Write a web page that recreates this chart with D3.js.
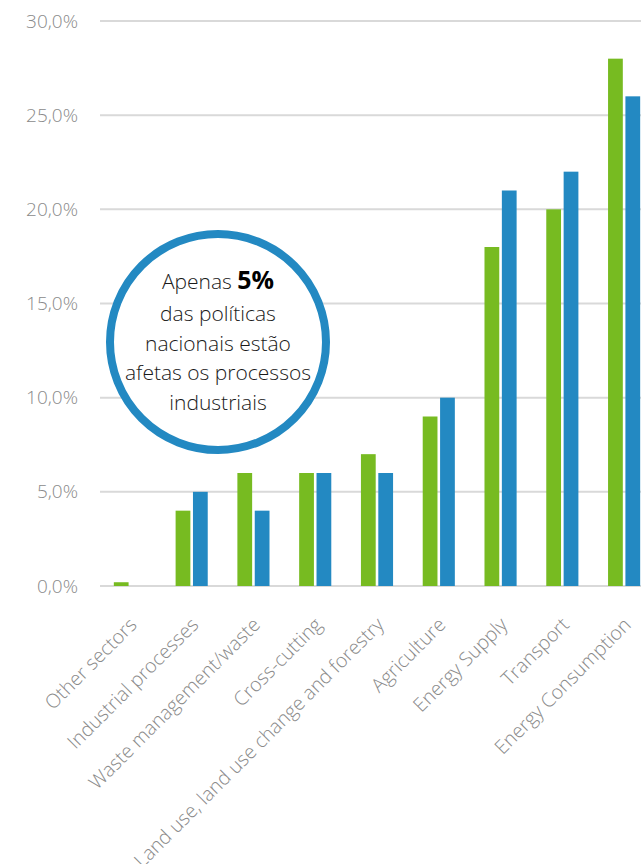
<!DOCTYPE html>
<html>
<head>
<meta charset="utf-8">
<script src="https://cdn.jsdelivr.net/npm/d3@7"></script>
<style>
  body { margin: 0; background: #fff; }
  svg { display: block; font-family: "Open Sans", sans-serif; }
  .tick text { fill: #8a8a8a; }
</style>
</head>
<body>
<div id="chart"></div>
<script>
const categories = ['Other sectors', 'Industrial processes', 'Waste management/waste', 'Cross-cutting',
  'Land use, land use change and forestry', 'Agriculture', 'Energy Supply', 'Transport', 'Energy Consumption'];
const seriesNames = ['green', 'blue'];
const greenValues = [0.2, 4, 6, 6, 7, 9, 18, 20, 28];
const blueValues = [0, 5, 4, 6, 6, 10, 21, 22, 26];
const yTicks = [0, 5, 10, 15, 20, 25, 30];
const noteLines = ['das políticas', 'nacionais estão', 'afetas os processos', 'industriais'];

const colors = {green: '#77bb21', blue: '#2389c2'};

const width = 641, height = 864;
const margin = {top: 21, left: 99, bottom: 278, right: -14};

const svg = d3.select('#chart').append('svg')
  .attr('width', width)
  .attr('height', height);

const y = d3.scaleLinear()
  .domain([0, 30])
  .range([height - margin.bottom, margin.top]);

const x0 = d3.scaleBand()
  .domain(categories)
  .range([margin.left, width - margin.right])
  .paddingInner(0.48)
  .paddingOuter(0.24);

const x1 = d3.scaleBand()
  .domain(seriesNames)
  .range([0, x0.bandwidth()])
  .paddingInner(0.15);

const fmt = v => d3.format('.1f')(v).replace('.', ',') + '%';

// gridlines
svg.append('g')
  .selectAll('line')
  .data(yTicks)
  .join('line')
  .attr('x1', margin.left + 1)
  .attr('x2', width)
  .attr('y1', d => y(d))
  .attr('y2', d => y(d))
  .attr('stroke', '#d9d9d9')
  .attr('stroke-width', 2);

// y axis labels
const yAxis = svg.append('g')
  .attr('transform', 'translate(78,0)')
  .call(d3.axisLeft(y).tickValues(yTicks).tickFormat(fmt).tickSize(0).tickPadding(0));
yAxis.select('.domain').remove();
yAxis.selectAll('text')
  .attr('font-size', 19)
  .attr('font-weight', 300)
  .attr('font-family', '"Open Sans", sans-serif');

// bars
const rows = categories.map((c, i) => ({cat: c, green: greenValues[i], blue: blueValues[i]}));
svg.append('g')
  .selectAll('g')
  .data(rows)
  .join('g')
  .attr('transform', d => `translate(${x0(d.cat)},0)`)
  .selectAll('rect')
  .data(d => seriesNames.map(s => ({key: s, value: d[s]})))
  .join('rect')
  .attr('x', d => x1(d.key))
  .attr('width', x1.bandwidth())
  .attr('y', d => y(d.value))
  .attr('height', d => y(0) - y(d.value))
  .attr('fill', d => colors[d.key]);

// category labels
const xAxis = svg.append('g')
  .attr('transform', `translate(0,${y(0)})`)
  .call(d3.axisBottom(x0).tickSize(0).tickPadding(0));
xAxis.select('.domain').remove();
xAxis.selectAll('text')
  .attr('font-size', 19.5)
  .attr('font-weight', 300)
  .attr('font-family', '"Open Sans", sans-serif')
  .attr('text-anchor', 'end')
  .attr('dy', 0)
  .attr('transform', 'translate(8,40) rotate(-45)');

// callout circle
const cx = 218, cy = 342;
svg.append('circle')
  .attr('cx', cx)
  .attr('cy', cy)
  .attr('r', 108)
  .attr('fill', '#fff')
  .attr('stroke', '#2389c2')
  .attr('stroke-width', 8);

const note = svg.append('g')
  .attr('font-family', '"Open Sans", sans-serif')
  .attr('font-weight', 300)
  .attr('text-anchor', 'middle')
  .attr('fill', '#1a1a1a');

const first = note.append('text')
  .attr('x', cx)
  .attr('y', 289)
  .attr('font-size', 21);
first.append('tspan').text('Apenas ');
first.append('tspan').attr('font-size', 25).attr('font-weight', 'bold').attr('fill', '#000').text('5%');

note.selectAll('.line')
  .data(noteLines)
  .join('text')
  .attr('class', 'line')
  .attr('x', cx)
  .attr('y', (d, i) => 321 + i * 29.5)
  .attr('font-size', 21)
  .text(d => d);
</script>
</body>
</html>
